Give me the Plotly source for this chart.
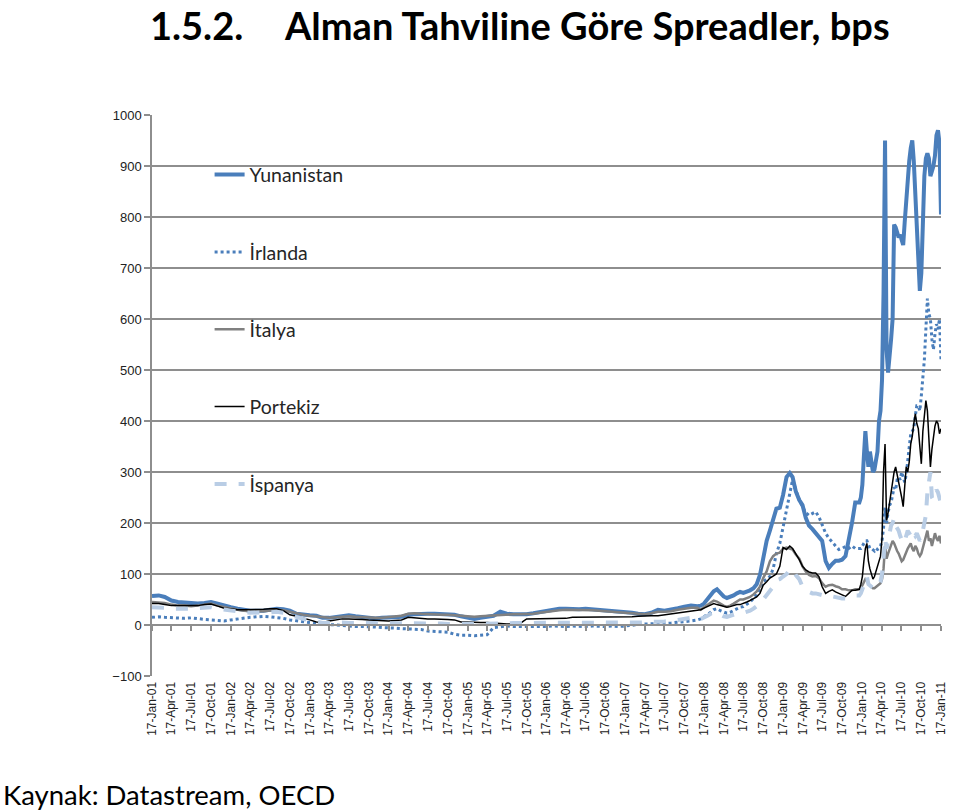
import plotly.graph_objects as go
import pandas as pd

# ---------------- dates (x categories) ----------------
monthly_dates = [f"{y}-{m:02d}-17" for y in range(2001, 2008) for m in range(1, 13)]
semi_dates = [f"{y}-{m:02d}-{d}" for y in (2008, 2009) for m in range(1, 13) for d in ("01", "16")]
weekly_dates = [d.strftime("%Y-%m-%d") for d in pd.date_range("2010-01-04", "2011-01-17", freq="7D")]
dates = monthly_dates + semi_dates + weekly_dates

# ---------------- series values (bps) ----------------
yunanistan = [
    57, 58, 55, 48, 45, 44, 42, 42, 43, 45, 42, 38,
    35, 32, 30, 28, 28, 28, 30, 32, 31, 28, 22, 20,
    19, 18, 14, 14, 15, 17, 19, 17, 15, 14, 13, 14,
    14, 15, 16, 20, 21, 22, 22, 22, 21, 21, 20, 17,
    14, 12, 14, 17, 18, 26, 22, 21, 21, 21, 23, 25,
    28, 30, 32, 32, 31, 31, 32, 31, 30, 29, 28, 27,
    26, 24, 22, 21, 24, 30, 28, 30, 33, 36, 38, 37,
    38, 42, 50, 58, 66, 70, 62, 56, 53, 55, 58, 62, 65, 63, 65, 68, 72, 80, 98, 135, 165, 185, 210, 228,
    230, 255, 290, 298, 290, 262, 245, 235, 210, 195, 188, 180, 172, 165, 125, 112, 120, 126, 126, 128, 135, 165, 200, 240,
    240, 250, 275, 330, 380, 340, 310, 340, 320, 300, 305, 320, 340, 400, 420, 480, 650,
    950, 540, 495, 520, 560, 600, 785, 780, 770, 760, 765, 750, 745, 790, 840, 880, 910, 935,
    950, 910, 840, 790, 745, 655, 690, 810, 880, 915, 925, 915, 880, 890, 900, 920, 960,
    970, 945, 805,
]

irlanda = [
    15, 16, 15, 14, 14, 13, 14, 12, 11, 10, 9, 8,
    10, 12, 14, 15, 16, 17, 16, 15, 13, 10, 8, 6,
    5, 3, 2, 1, 0, -2, -3, -3, -3, -3, -4, -5,
    -5, -6, -7, -8, -8, -9, -12, -13, -14, -14, -18, -20,
    -20, -21, -20, -19, -5, -3, -2, -3, -3, -3, -4, -3,
    -3, -2, -3, -3, -2, -3, -3, -2, -3, -3, -2, -3,
    -2, 0, 1, 2, 2, 2, 3, 4, 5, 6, 8, 10,
    12, 16, 20, 25, 30, 32, 28, 25, 23, 25, 28, 32, 35, 36, 40, 45, 52, 60, 72, 85, 90, 95, 110, 140,
    160, 190, 226, 255, 285, 265, 245, 232, 220, 215, 218, 222, 212, 195, 180, 170, 161, 155, 148, 150, 154, 150, 155, 150,
    150, 150, 155, 160, 165, 165, 155, 150, 150, 148, 145, 150, 148, 150, 155, 165, 190,
    230, 200, 220, 235, 240, 260, 270, 265, 285, 290, 285, 300, 290, 280, 295, 320, 350, 375,
    380, 385, 410, 430, 430, 420, 450, 480, 520, 580, 640, 610, 600, 560, 540, 570, 590,
    580, 600, 520,
]

italya = [
    45, 44, 43, 40, 38, 38, 37, 38, 40, 42, 38, 35,
    32, 30, 28, 27, 27, 27, 28, 30, 29, 26, 22, 20,
    18, 17, 15, 14, 15, 16, 17, 16, 15, 14, 14, 14,
    15, 16, 18, 22, 23, 22, 21, 21, 20, 20, 19, 18,
    17, 16, 17, 18, 19, 20, 20, 21, 21, 21, 22, 24,
    26, 28, 29, 30, 30, 30, 30, 29, 28, 27, 26, 25,
    24, 23, 22, 21, 23, 26, 26, 27, 30, 32, 34, 34,
    30, 35, 40, 45, 48, 46, 42, 38, 36, 38, 42, 46, 50, 50, 52, 55, 60, 66, 75, 92, 105, 125, 135, 140,
    142, 150, 152, 150, 148, 138, 130, 115, 105, 98, 95, 96, 92, 82, 75, 78, 79, 76, 74, 70, 70, 68, 68, 70,
    70, 72, 78, 85, 90, 88, 80, 78, 75, 72, 72, 75, 78, 80, 82, 90, 110,
    155, 130, 140, 150, 155, 165, 160, 150, 145, 140, 130, 125, 128, 135, 145, 150, 155, 160,
    150, 145, 155, 150, 140, 135, 140, 150, 160, 170, 185, 165, 170, 155, 165, 180, 170,
    165, 175, 160,
]

portekiz = [
    42, 42, 40, 38, 38, 38, 37, 38, 40, 41, 37, 33,
    32, 30, 30, 30, 30, 31, 32, 32, 28, 20, 17, 14,
    10, 6, 5, 8, 10, 12, 12, 12, 11, 10, 9, 9,
    8, 9, 10, 15, 14, 12, 12, 12, 12, 11, 10, 6,
    6, 5, 5, 5, 4, 2, 2, 2, 3, 12, 12, 12,
    12, 12, 13, 13, 15, 15, 15, 15, 15, 15, 15, 15,
    15, 16, 17, 18, 18, 18, 20, 22, 24, 26, 28, 30,
    30, 33, 36, 40, 42, 40, 38, 36, 35, 36, 38, 40, 40, 42, 45, 48, 52, 55, 62, 78, 85, 92, 96, 100,
    115, 152, 148, 155, 150, 140, 128, 115, 108, 104, 102, 102, 95, 75, 62, 66, 69, 65, 62, 58, 56, 62, 68, 68,
    70, 80, 95, 125, 150, 160, 125, 110, 100, 90, 95, 105, 115, 120, 135, 170, 300,
    355, 205, 220, 240, 255, 275, 300, 310, 295, 285, 270, 250, 232, 265, 310, 300, 320, 355,
    370, 395, 414, 395, 385, 350, 316, 380, 410, 440, 420, 360, 310, 345, 370, 390, 400,
    395, 375, 385,
]

ispanya = [
    35, 35, 34, 32, 32, 31, 32, 33, 34, 35, 32, 30,
    27, 26, 25, 24, 24, 25, 25, 26, 24, 20, 15, 12,
    9, 6, 4, 4, 5, 5, 4, 4, 3, 3, 3, 3,
    3, 3, 4, 4, 4, 4, 3, 3, 3, 2, 2, 2,
    2, 2, 2, 3, 3, 3, 3, 4, 4, 4, 4, 4,
    4, 4, 5, 5, 5, 4, 4, 4, 4, 5, 5, 5,
    5, 5, 5, 5, 6, 6, 7, 8, 10, 12, 14, 16,
    12, 14, 18, 22, 25, 24, 20, 17, 16, 18, 20, 22, 24, 24, 26, 28, 32, 36, 42, 50, 58, 65, 75, 88,
    90, 95, 100, 108, 110, 98, 90, 75, 68, 65, 62, 62, 60, 58, 56, 55, 56, 54, 52, 52, 52, 55, 56, 58,
    58, 62, 70, 80, 90, 95, 80, 78, 75, 72, 70, 72, 75, 80, 85, 100, 130,
    170, 150, 165, 185, 195, 200, 210, 195, 190, 185, 175, 165, 160, 165, 175, 185, 180, 175,
    185, 180, 175, 180, 170, 165, 170, 185, 200, 215, 260, 285, 300, 250, 245, 255, 265,
    260, 250, 238,
]

# ---------------- tick labels ----------------
tick_dates = [f"{y}-{m:02d}-17" for y in range(2001, 2011) for m in (1, 4, 7, 10)] + ["2011-01-17"]
mon_names = {1: "Jan", 4: "Apr", 7: "Jul", 10: "Oct"}
tick_labels = [f"17-{mon_names[m]}-{y % 100:02d}" for y in range(2001, 2011) for m in (1, 4, 7, 10)] + ["17-Jan-11"]
y_ticks = list(range(-100, 1001, 100))
grid_ticks = list(range(100, 1001, 100))

names = ["Yunanistan", "İrlanda", "İtalya", "Portekiz", "İspanya"]
series = [yunanistan, irlanda, italya, portekiz, ispanya]
styles = [
    dict(color="#4a7ebb", width=4, dash="solid"),
    dict(color="#4a7ebb", width=3, dash="dot"),
    dict(color="#808080", width=2.5, dash="solid"),
    dict(color="#000000", width=1.5, dash="solid"),
    dict(color="#b9cde5", width=4, dash="dash"),
]

GRID = "#8e8e8e"

fig = go.Figure()
# helper traces so the grid axis and the zero-line axis get drawn
fig.add_trace(go.Scatter(x=[dates[0]], y=[None], xaxis="x", yaxis="y2", showlegend=False, hoverinfo="skip"))
fig.add_trace(go.Scatter(x=[dates[0]], y=[None], xaxis="x2", yaxis="y", showlegend=False, hoverinfo="skip"))

for n, s, st in zip(names, series, styles):
    fig.add_trace(go.Scatter(x=dates, y=s, mode="lines", name=n, legendgroup=n, line=st))

fig.update_layout(
    width=960, height=811,
    margin=dict(l=152, r=12, t=115, b=135),
    paper_bgcolor="white", plot_bgcolor="white",
    font=dict(family="Liberation Sans, Arial, sans-serif", color="#222222"),
    showlegend=True,
    legend=dict(
        x=0.073, y=0.928, xanchor="left", yanchor="top",
        bgcolor="rgba(0,0,0,0)", font=dict(family="Lato, Noto Sans, sans-serif", size=19.5, color="#262626"),
        tracegroupgap=49,
    ),
    xaxis=dict(
        type="date", range=["2001-01-17", "2011-01-17"],
        tickmode="array", tickvals=tick_dates, ticktext=tick_labels, tickangle=-90,
        tickfont=dict(size=12, color="#222222"),
        ticks="", showgrid=False, zeroline=False,
        showline=True, linecolor="white", linewidth=1,
    ),
    xaxis2=dict(
        type="date", range=["2001-01-17", "2011-01-17"], overlaying="x", anchor="free",
        position=100 / 1100, side="bottom",
        tickmode="array", tickvals=tick_dates, showticklabels=False,
        ticks="outside", ticklen=5, tickcolor=GRID, tickwidth=1.5,
        showline=True, linecolor=GRID, linewidth=1.5, showgrid=False, zeroline=False,
    ),
    yaxis=dict(
        range=[-100, 1000], tickmode="array", tickvals=y_ticks,
        tickfont=dict(size=13, color="#222222"),
        ticks="outside", ticklen=6, tickcolor=GRID, tickwidth=1.5,
        showline=True, linecolor=GRID, linewidth=1.5,
        showgrid=False, zeroline=False,
    ),
    yaxis2=dict(
        range=[-100, 1000], overlaying="y", tickmode="array", tickvals=grid_ticks,
        showticklabels=False, ticks="", showgrid=True, gridcolor=GRID, gridwidth=1.5,
        zeroline=False, showline=False,
    ),
    annotations=[
        dict(text="<b>1.5.2.</b>", xref="paper", yref="paper", x=(148 - 152) / 796, y=(676 - 25) / 561,
             xanchor="left", yanchor="middle", showarrow=False,
             font=dict(family="Lato, Noto Sans, sans-serif", size=38, color="black")),
        dict(text="<b>Alman Tahviline Göre Spreadler, bps</b>", xref="paper", yref="paper",
             x=(283 - 152) / 796, y=(676 - 25) / 561,
             xanchor="left", yanchor="middle", showarrow=False,
             font=dict(family="Lato, Noto Sans, sans-serif", size=38, color="black")),
        dict(text="Kaynak: Datastream, OECD", xref="paper", yref="paper",
             x=(0 - 152) / 796, y=(676 - 794) / 561,
             xanchor="left", yanchor="middle", showarrow=False,
             font=dict(family="Lato, Noto Sans, sans-serif", size=27.5, color="black")),
    ],
)

fig.write_html("out.html")
